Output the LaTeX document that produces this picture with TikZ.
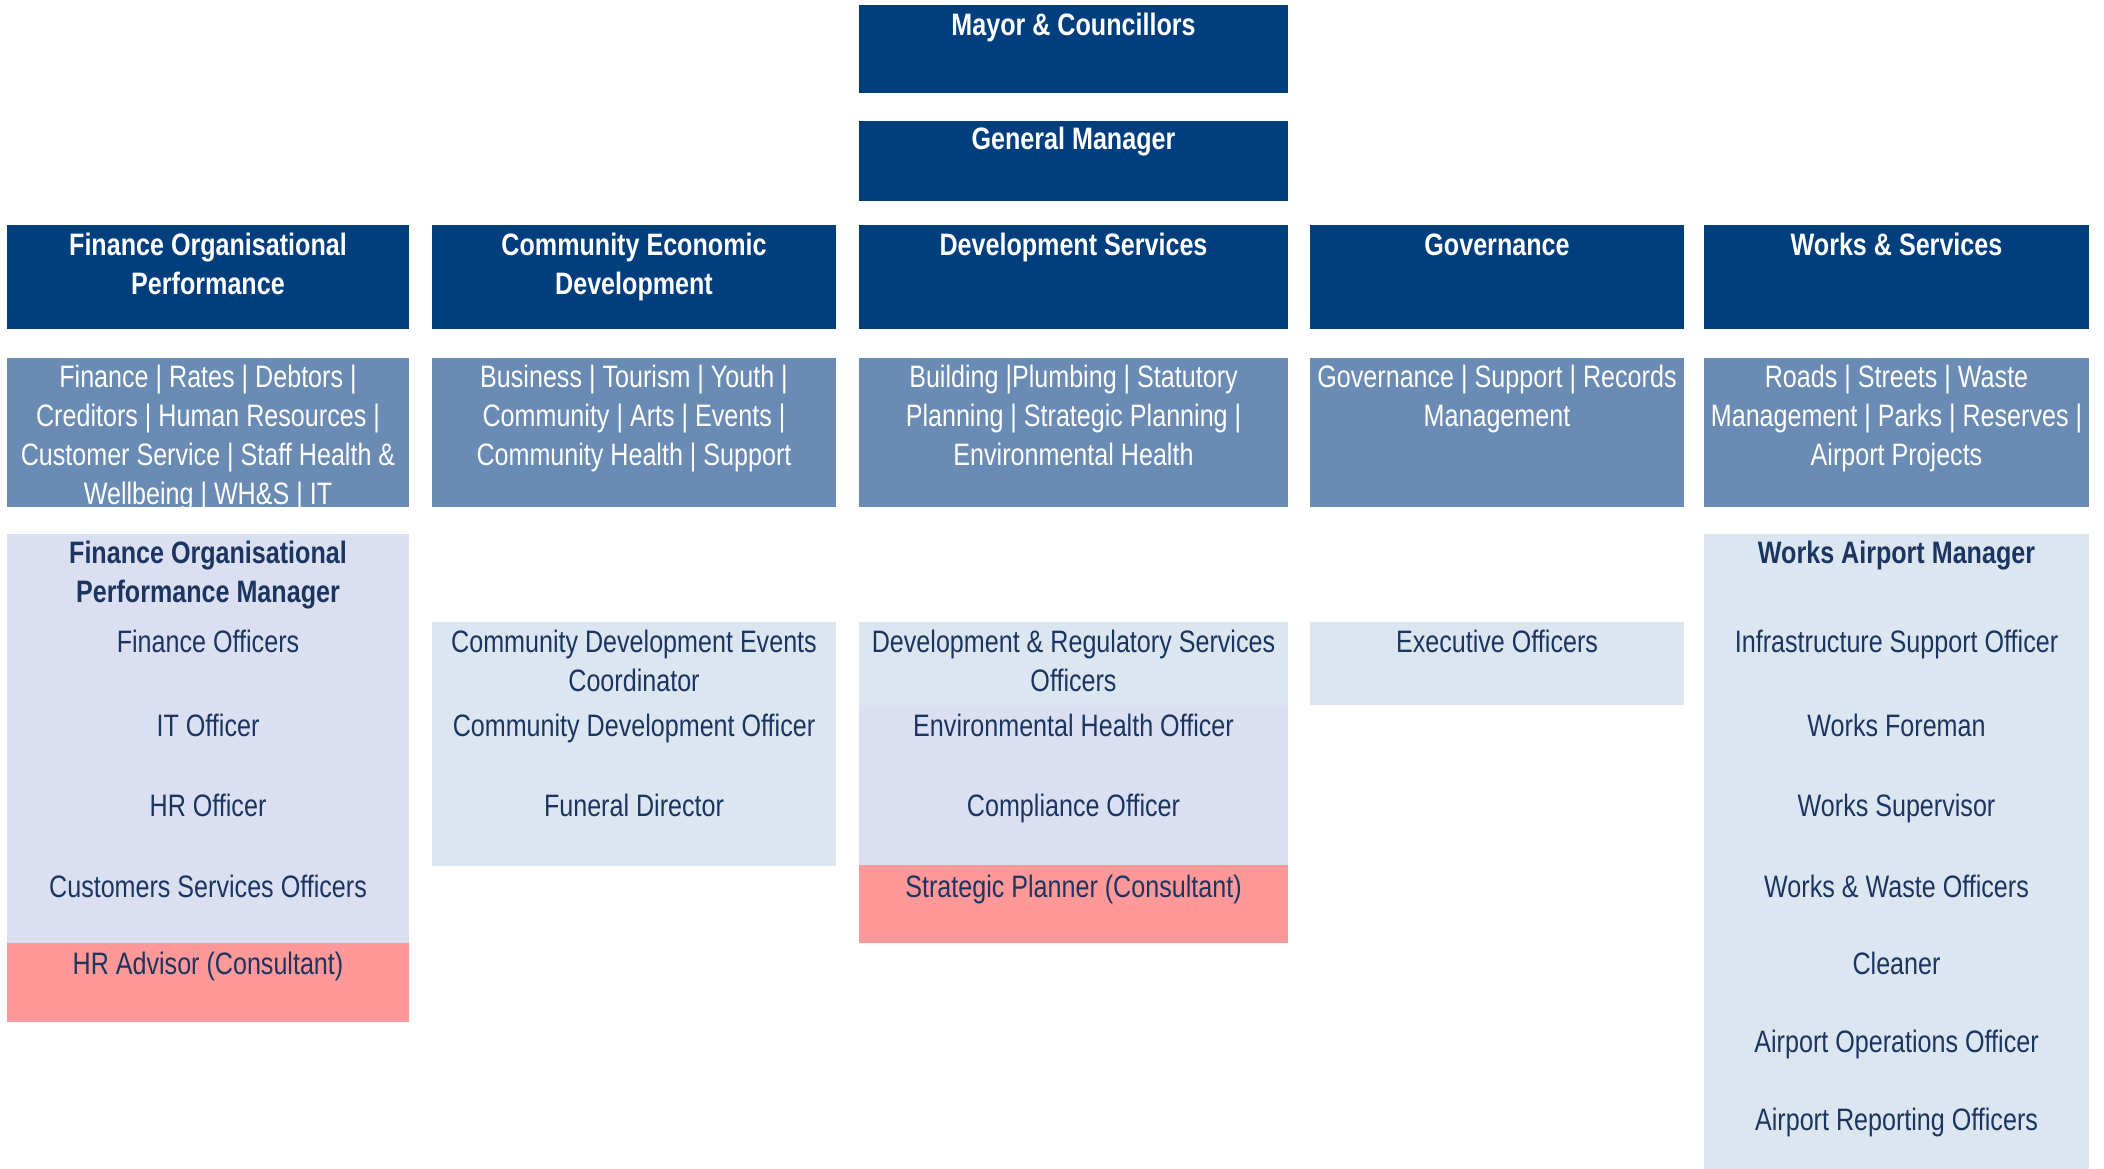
\documentclass[tikz,border=0pt]{standalone}
\usepackage{fontspec}
\setmainfont[FakeStretch=0.81]{Liberation Sans}
\definecolor{darkb}{HTML}{003E7E}
\definecolor{midb}{HTML}{6A8CB4}
\definecolor{lightb}{HTML}{DCE6F1}
\definecolor{lavb}{HTML}{DAE0F2}
\definecolor{pinkr}{HTML}{FF9999}
\definecolor{navyt}{HTML}{1B3560}
\tikzset{
  box/.style={draw=none,rectangle,anchor=north west,inner sep=0pt,outer sep=0pt},
  lbl/.style={anchor=base,inner sep=0pt,align=center,font=\fontsize{31}{39}\selectfont},
  wb/.style={lbl,text=white,font=\fontsize{31}{39}\selectfont\bfseries},
  wt/.style={lbl,text=white},
  nb/.style={lbl,text=navyt,font=\fontsize{31}{39}\selectfont\bfseries},
  nt/.style={lbl,text=navyt}
}
\newcommand{\mybox}[6]{\node[box,fill=#6,minimum width=#4pt-#2pt,minimum height=#5pt-#3pt] (#1) at (#2,#3) {};}
\begin{document}
\begin{tikzpicture}[x=1pt,y=-1pt]
\useasboundingbox (0,0) rectangle (2104,1169);
% top
\mybox{mayor}{859}{5}{1288}{93}{darkb}
\mybox{gm}{859}{121}{1288}{201}{darkb}
% departments
\mybox{d1}{7}{225}{409}{329}{darkb}
\mybox{d2}{432}{225}{836}{329}{darkb}
\mybox{d3}{859}{225}{1288}{329}{darkb}
\mybox{d4}{1310}{225}{1684}{329}{darkb}
\mybox{d5}{1704}{225}{2089}{329}{darkb}
% sub rows
\mybox{s1}{7}{358}{409}{507}{midb}
\mybox{s2}{432}{358}{836}{507}{midb}
\mybox{s3}{859}{358}{1288}{507}{midb}
\mybox{s4}{1310}{358}{1684}{507}{midb}
\mybox{s5}{1704}{358}{2089}{507}{midb}
% lower
\mybox{l1}{7}{534}{409}{943}{lavb}
\mybox{r1}{7}{943}{409}{1022}{pinkr}
\mybox{l2}{432}{622}{836}{866}{lightb}
\mybox{l3a}{859}{622}{1288}{705}{lightb}
\mybox{l3b}{859}{705}{1288}{865}{lavb}
\mybox{r3}{859}{865}{1288}{943}{pinkr}
\mybox{l4}{1310}{622}{1684}{705}{lightb}
\mybox{l5}{1704}{534}{2089}{1169}{lightb}

% texts top (anchor = baseline of last line)
\node[wb] (tmayor) at (1073.5,36) {Mayor \& Councillors};
\node[wb] (tgm) at (1073.5,150) {General Manager};
\node[wb] (td1) at (208,294) {Finance Organisational\\Performance};
\node[wb] (td2) at (634,294) {Community Economic\\Development};
\node[wb] (td3) at (1073.5,255) {Development Services};
\node[wb] (td4) at (1497,255) {Governance};
\node[wb] (td5) at (1896.5,255) {Works \& Services};
% sub texts
\node[wt] (ts1) at (208,504) {Finance | Rates | Debtors |\\Creditors | Human Resources |\\Customer Service | Staff Health \&\\Wellbeing | WH\&S | IT};
\node[wt] (ts2) at (634,465) {Business | Tourism | Youth |\\Community | Arts | Events |\\Community Health | Support};
\node[wt] (ts3) at (1073.5,465) {Building |Plumbing | Statutory\\Planning | Strategic Planning |\\Environmental Health};
\node[wt] (ts4) at (1497,426) {Governance | Support | Records\\Management};
\node[wt] (ts5) at (1896.5,465) {Roads | Streets | Waste\\Management | Parks | Reserves |\\Airport Projects};
% column 1
\node[nb] (c1m) at (208,602) {Finance Organisational\\Performance Manager};
\node[nt] (c1a) at (208,652) {Finance Officers};
\node[nt] (c1b) at (208,736) {IT Officer};
\node[nt] (c1c) at (208,816) {HR Officer};
\node[nt] (c1d) at (208,897) {Customers Services Officers};
\node[nt] (c1e) at (208,974) {HR Advisor (Consultant)};
% column 2
\node[nt] (c2a) at (634,691) {Community Development Events\\Coordinator};
\node[nt] (c2b) at (634,736) {Community Development Officer};
\node[nt] (c2c) at (634,816) {Funeral Director};
% column 3
\node[nt] (c3a) at (1073.5,691) {Development \& Regulatory Services\\Officers};
\node[nt] (c3b) at (1073.5,736) {Environmental Health Officer};
\node[nt] (c3c) at (1073.5,816) {Compliance Officer};
\node[nt] (c3d) at (1073.5,897) {Strategic Planner (Consultant)};
% column 4
\node[nt] (c4a) at (1497,652) {Executive Officers};
% column 5
\node[nb] (c5m) at (1896.5,563) {Works Airport Manager};
\node[nt] (c5a) at (1896.5,652) {Infrastructure Support Officer};
\node[nt] (c5b) at (1896.5,736) {Works Foreman};
\node[nt] (c5c) at (1896.5,816) {Works Supervisor};
\node[nt] (c5d) at (1896.5,897) {Works \& Waste Officers};
\node[nt] (c5e) at (1896.5,974) {Cleaner};
\node[nt] (c5f) at (1896.5,1052) {Airport Operations Officer};
\node[nt] (c5g) at (1896.5,1130) {Airport Reporting Officers};
\end{tikzpicture}
\end{document}
